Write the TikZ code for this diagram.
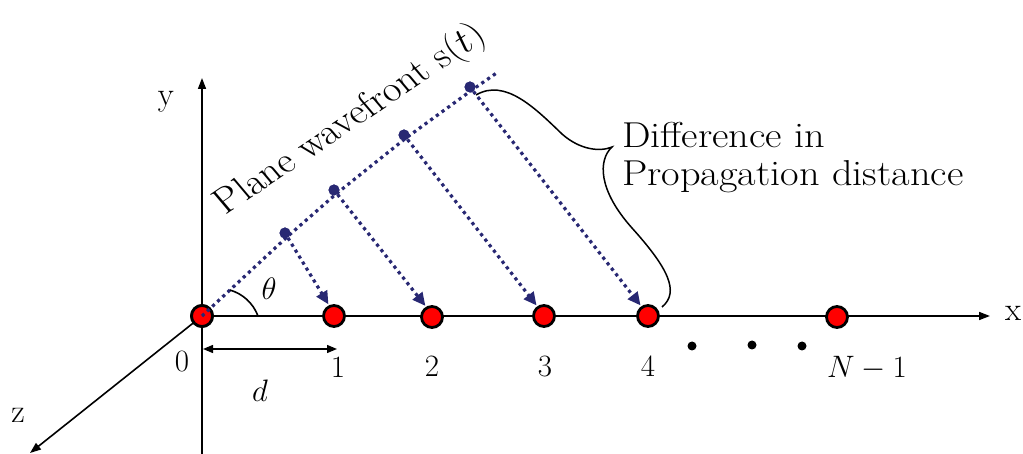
\RequirePackage{fix-cm}
\documentclass[tikz,border=0pt]{standalone}
\usepackage{fontspec}
\usetikzlibrary{arrows.meta}
\definecolor{navy}{RGB}{40,40,115}
\begin{document}
\begin{tikzpicture}[x=1pt,y=-1pt,
  elem/.style={circle,draw=black,fill=red,line width=2.8pt,minimum size=21pt,inner sep=0pt},
  wdot/.style={circle,fill=navy,minimum size=11pt,inner sep=0pt},
  bdot/.style={circle,fill=black,minimum size=9pt,inner sep=0pt},
  wave/.style={navy,line width=3.2pt,dash pattern=on 3.2pt off 3.8pt},
  warrow/.style={wave,-{Triangle[length=13pt,width=12pt]},shorten >=1pt},
  axis/.style={line width=1.6pt,-{Triangle[length=11pt,width=8pt]}},
  lbl/.style={font=\fontsize{31}{34}\selectfont,inner sep=0pt},
  axl/.style={font=\fontsize{33}{36}\selectfont,inner sep=0pt},
  big/.style={font=\fontsize{36}{38}\selectfont,inner sep=0pt,xscale=1.12}]
\useasboundingbox (0,0) rectangle (1023,454);
% axes
\coordinate (ybot) at (202,454);
\coordinate (ytop) at (202,78);
\coordinate (xend) at (990,316);
\coordinate (zend) at (30,453);
\draw[axis] (ybot) -- (ytop);
\node[elem] (e0) at (202,316) {};
\draw[axis] (e0.center) -- (xend);
\draw[axis] (e0.center) -- (zend);
\node[axl] (lx) at (1013,313) {x};
\node[axl] (ly) at (166,102) {y};
\node[axl] (lz) at (18,415) {z};
% elements
\node[elem] (e1) at (334,316) {};
\node[elem] (e2) at (432,317) {};
\node[elem] (e3) at (544,316) {};
\node[elem] (e4) at (648,316) {};
\node[elem] (eN) at (837,317) {};
\node[elem] at (202,316) {};
% wavefront
\node[wdot] (p1) at (285,233) {};
\node[wdot] (p2) at (334,190) {};
\node[wdot] (p3) at (404,135) {};
\node[wdot] (p4) at (470,87) {};
\coordinate (wend) at (498,72);
\draw[wave] (e0.center) -- ([shift={(2,4)}]p1.center) -- ([shift={(2,4)}]p2.center) -- ([shift={(2,3)}]p3.center) -- ([shift={(2,3)}]p4.center) -- (wend);
\foreach \p in {p1,p2,p3,p4} \node[wdot] at (\p) {};
\draw[warrow] (p1) -- (e1.115);
\draw[warrow] (p2) -- (e2.120);
\draw[warrow] (p3) -- (e3.125);
\draw[warrow] (p4) -- (e4.125);
% angle
\coordinate (a1) at (258,316);
\coordinate (a2) at (230,290);
\draw[line width=1.6pt] (a1) .. controls (253,303) and (243,294) .. (a2);
\node[lbl] (th) at (269,289) {$\theta$};
% labels
\node[lbl] (l0) at (182,362) {$0$};
\node[lbl] (l1) at (338,368) {$1$};
\node[lbl] (l2) at (432,367) {$2$};
\node[lbl] (l3) at (545,367) {$3$};
\node[lbl] (l4) at (648,367) {$4$};
\node[lbl] (lN) at (867,368) {$N-1$};
\coordinate (da) at (203,349);
\coordinate (db) at (337,349);
\draw[line width=1.3pt,{Triangle[length=10pt,width=8pt]}-{Triangle[length=10pt,width=8pt]}] (da) -- (db);
\node[lbl] (ld) at (260,391) {$d$};
\node[bdot] (d1) at (692,346) {};
\node[bdot] (d2) at (752,345) {};
\node[bdot] (d3) at (802,346) {};
% brace
\coordinate (bs) at (476,95);
\coordinate (bt) at (612,147);
\coordinate (be) at (662,307);
\draw[line width=1.5pt] (bs) .. controls (505,78) and (535,108) .. (562,134)
  .. controls (580,150) and (600,152) .. (bt)
  .. controls (598,160) and (598,190) .. (632,228)
  .. controls (668,268) and (680,292) .. (be);
\node[big,anchor=west,align=left] (txt) at (622,158) {Difference in\\Propagation distance};
\node[big,rotate=37] (wt) at (351,120) {Plane wavefront s$(t)$};
\end{tikzpicture}
\end{document}
